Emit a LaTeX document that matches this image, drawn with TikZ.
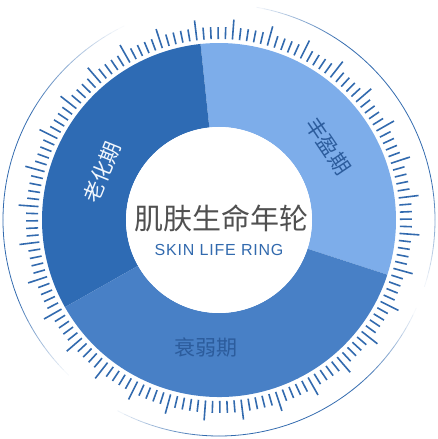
\documentclass[tikz,border=0pt]{standalone}
\usepackage{fontspec}
\newfontfamily\cjkfont{Noto Sans CJK SC}
\newfontfamily\latinfont[LetterSpace=5]{Liberation Sans}
\definecolor{ringdark}{HTML}{2E6BB4}
\definecolor{ringmid}{HTML}{4880C6}
\definecolor{ringlight}{HTML}{7DADEA}
\definecolor{tickblue}{HTML}{326AAE}
\definecolor{titlegray}{HTML}{505050}
\definecolor{labelblue}{HTML}{2C5C9C}

\begin{document}
\begin{tikzpicture}[x=1pt, y=1pt,
  scaletick/.style={tickblue, line width=1.6pt},
  ringlabel/.style={font=\cjkfont\fontsize{21}{21}\selectfont, inner sep=0pt}]

	\useasboundingbox (-219,-219) rectangle (219,220);

	% Radii
	\def\rin{93}
	\def\rout{177}
	\def\rtick{181}
	\def\rshort{193}
	\def\rlong{201}
	\def\rrim{216}

	% Ring segments
	\fill[ringlight] (-18:\rout) arc (-18:96:\rout) -- (96:\rin) arc (96:-18:\rin) -- cycle;
	\fill[ringdark] (96:\rout) arc (96:209.5:\rout) -- (209.5:\rin) arc (209.5:96:\rin) -- cycle;
	\fill[ringmid] (209.5:\rout) arc (209.5:342:\rout) -- (342:\rin) arc (342:209.5:\rin) -- cycle;

	% Scale ticks, a long one every fifth
	\foreach \k in {0,...,159} {
		\pgfmathsetmacro{\ang}{7 + 2.25*\k}
		\pgfmathsetmacro{\rend}{mod(\k,5) == 0 ? \rlong : \rshort}
		\draw[scaletick] (\ang:\rtick) -- (\ang:\rend);
	}

	% Outer rim, fading in and out
	\foreach \a in {-20,-18,...,338} {
		\pgfmathsetmacro{\op}{max(0, min(1,(\a+20)/30,(80-\a)/25), min(1,(\a-115)/35,(225-\a)/25), min(1,(\a-240)/25,(335-\a)/25))}
		\draw[tickblue, line width=0.8pt, opacity=\op] (\a:\rrim) arc (\a:\a+2:\rrim);
	}

	% Centre disc
	\fill[white] (0,0) circle (\rin);

	% Titles
	\node[font=\cjkfont\fontsize{29}{29}\selectfont, text=titlegray, inner sep=0pt] (title) at (3,2) {肌肤生命年轮};
	\node[font=\latinfont\fontsize{16}{16}\selectfont, text=tickblue, inner sep=0pt] (subtitle) at (0,-30) {SKIN LIFE RING};

	% Stage labels
	\node[ringlabel, text=labelblue, rotate=-56] (full) at (34:132) {丰盈期};
	\node[ringlabel, text=labelblue] (weak) at (264:128) {衰弱期};
	\node[ringlabel, text=white!90!ringlight, rotate=68] (aging) at (157.7:126) {老化期};

\end{tikzpicture}
\end{document}
